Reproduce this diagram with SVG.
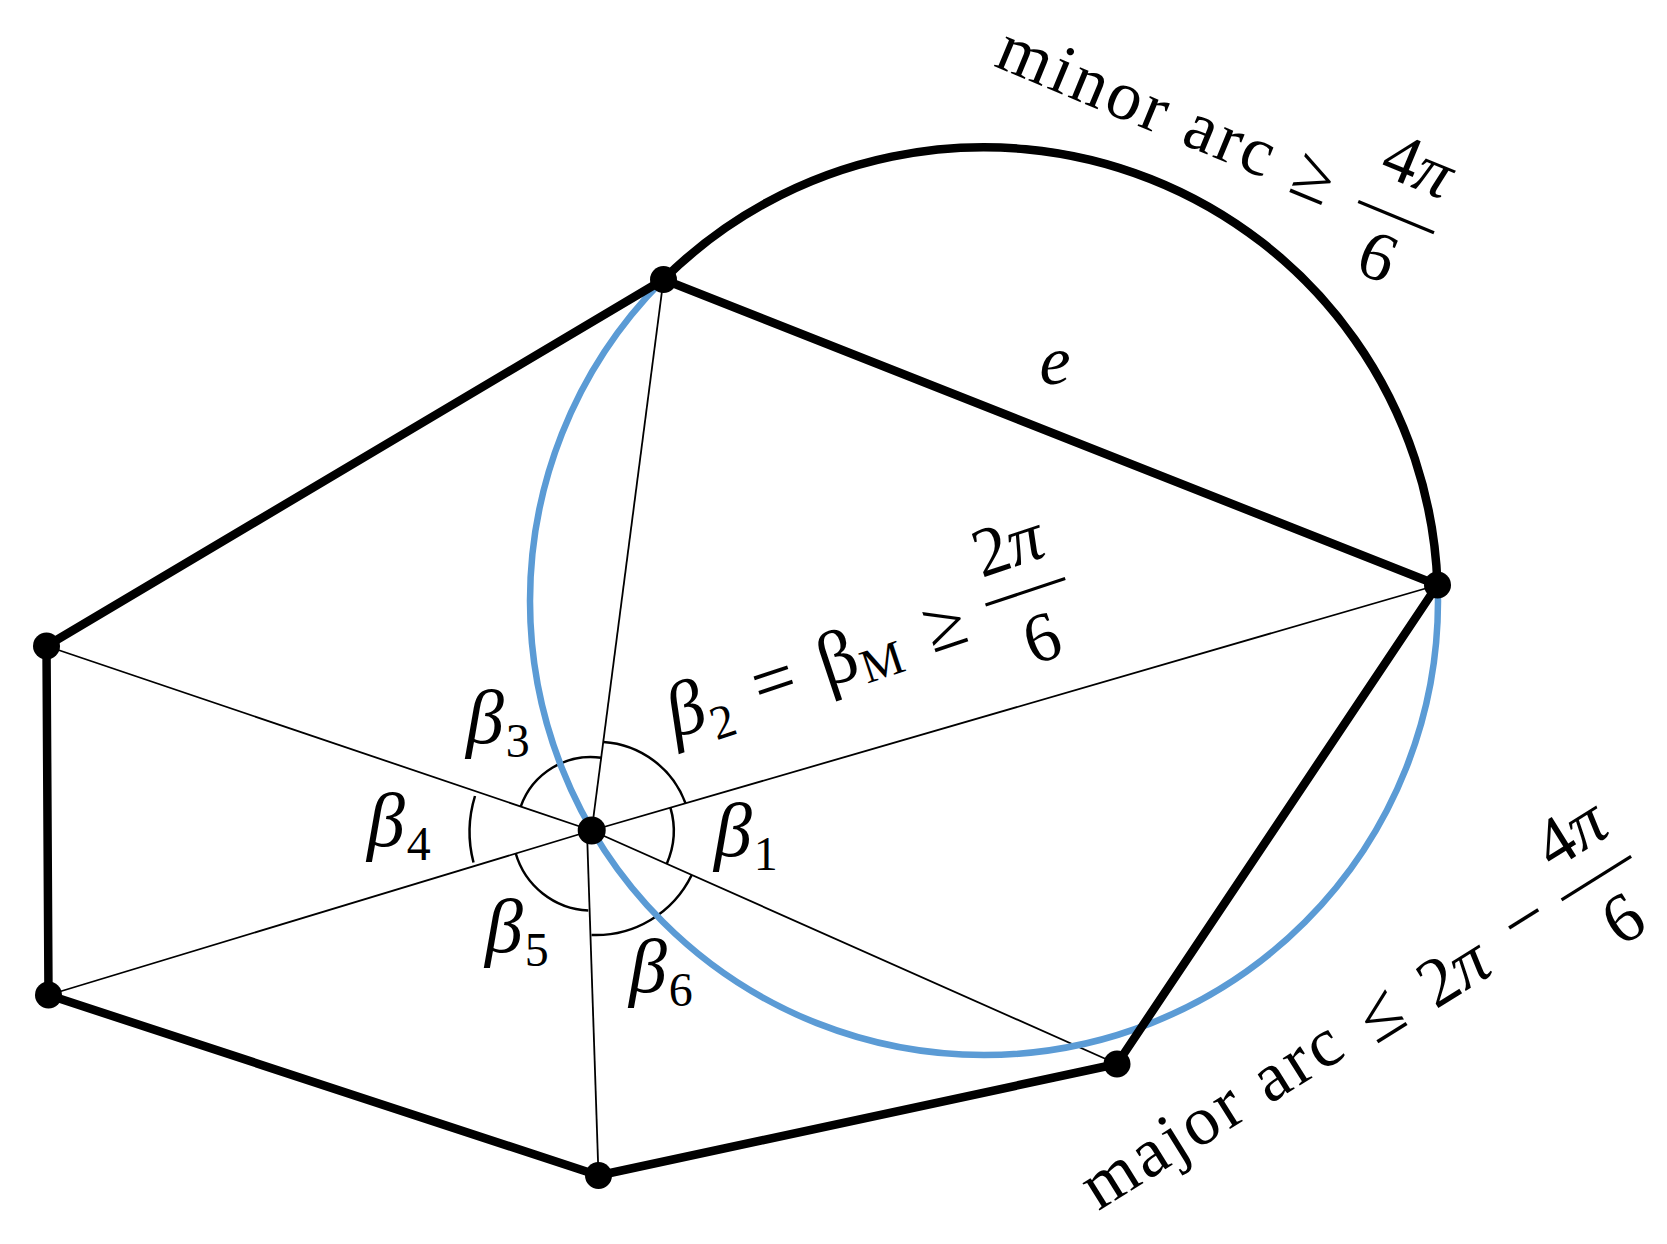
<svg xmlns="http://www.w3.org/2000/svg" width="1667" height="1244" viewBox="0 0 1667 1244">
<style>
.thick{stroke:#000;stroke-width:8.5;fill:none;stroke-linecap:round;stroke-linejoin:round}
.thin{stroke:#000;stroke-width:1.8;fill:none}
.ang{stroke:#000;stroke-width:2.5;fill:none}
.blue{stroke:#5B9BD5;stroke-width:6.5;fill:none}
.bar{stroke:#000;stroke-width:3.2}
.lbl{font-family:"Liberation Serif","DejaVu Serif",serif;font-size:70px;fill:#000}
.it{font-style:italic}
.beta{font-size:76px}
.sub{font-size:48px}
.dot{fill:#000}
</style>
<rect width="1667" height="1244" fill="#fff"/>
<g id="connectors">
  <g id="spokes">
    <line class="thin" x1="591.7" y1="830.5" x2="663.5" y2="279.5"/>
    <line class="thin" x1="591.7" y1="830.5" x2="1437.5" y2="585"/>
    <line class="thin" x1="591.7" y1="830.5" x2="1117" y2="1064"/>
    <line class="thin" x1="587" y1="832" x2="598.5" y2="1175.5"/>
    <line class="thin" x1="591.7" y1="830.5" x2="48.5" y2="995"/>
    <line class="thin" x1="591.7" y1="830.5" x2="46.5" y2="646"/>
  </g>
  <g id="angle-arcs">
    <path class="ang" d="M670.4,807.7 A82,82 0 0 1 666.7,863.9"/>
    <path class="ang" d="M603.4,741.9 A94,94 0 0 1 685.5,803.3"/>
    <path class="ang" d="M520.7,806.6 A74.5,74.5 0 0 1 601.3,757.7"/>
    <path class="ang" d="M473.5,862.5 A122,122 0 0 1 475,796"/>
    <path class="ang" d="M588.3,910.5 A79.5,79.5 0 0 1 515.6,853"/>
    <path class="ang" d="M691.7,875 A106.5,106.5 0 0 1 591.5,935"/>
  </g>
  <circle id="circle" class="blue" cx="984" cy="601" r="454"/>
  <g id="edges">
    <path id="minor-arc" class="thick" d="M663.5,279.5 A454,454 0 0 1 1437.5,585"/>
    <line class="thick" x1="663.5" y1="279.5" x2="46.5" y2="646"/>
    <line class="thick" x1="46.5" y1="646" x2="48.5" y2="995"/>
    <line class="thick" x1="48.5" y1="995" x2="598.5" y2="1175.5"/>
    <line class="thick" x1="598.5" y1="1175.5" x2="1117" y2="1064"/>
    <line class="thick" x1="1117" y1="1064" x2="1437.5" y2="585"/>
    <line id="edge-e" class="thick" x1="1437.5" y1="585" x2="663.5" y2="279.5"/>
  </g>
</g>
<g id="node-A"><circle class="dot" cx="663.5" cy="279.5" r="13.5"/></g>
<g id="node-F"><circle class="dot" cx="1437.5" cy="585" r="13.5"/></g>
<g id="node-E"><circle class="dot" cx="1117" cy="1064" r="13.5"/></g>
<g id="node-D"><circle class="dot" cx="598.5" cy="1175.5" r="13.5"/></g>
<g id="node-C"><circle class="dot" cx="48.5" cy="995" r="13.5"/></g>
<g id="node-B"><circle class="dot" cx="46.5" cy="646" r="13.5"/></g>
<g id="node-O"><circle class="dot" cx="591.7" cy="830.5" r="14"/></g>

<g id="labels" class="lbl">
  <text class="it" x="1055" y="384" text-anchor="middle">e</text>

  <text x="714" y="856"><tspan class="it beta">β</tspan><tspan class="sub" dx="2" dy="14">1</tspan></text>
  <text x="466" y="743"><tspan class="it beta">β</tspan><tspan class="sub" dx="2" dy="14">3</tspan></text>
  <text x="367" y="846"><tspan class="it beta">β</tspan><tspan class="sub" dx="2" dy="14">4</tspan></text>
  <text x="485" y="952"><tspan class="it beta">β</tspan><tspan class="sub" dx="2" dy="14">5</tspan></text>
  <text x="629" y="992"><tspan class="it beta">β</tspan><tspan class="sub" dx="2" dy="14">6</tspan></text>

  <g id="label-beta2" transform="translate(775,685) rotate(-18.5)">
    <text x="-112" y="19"><tspan class="it beta">β</tspan><tspan class="sub" dx="1" dy="15">2</tspan></text>
    <text x="0" y="20" text-anchor="middle" font-size="76">=</text>
    <text x="48" y="19"><tspan class="beta">β</tspan><tspan class="sub" dx="1" dy="9">M</tspan></text>
    <text x="180" y="20" text-anchor="middle" font-size="74">≥</text>
    <line class="bar" x1="225" y1="-9" x2="309" y2="-9"/>
    <text x="265" y="-36" text-anchor="middle">2<tspan class="it">π</tspan></text>
    <text x="268" y="63" text-anchor="middle">6</text>
  </g>

  <g id="label-minor" transform="translate(1313,180) rotate(22.5)">
    <text x="-340" y="17" textLength="294" lengthAdjust="spacing">minor arc</text>
    <text x="0" y="20" text-anchor="middle" font-size="74">≥</text>
    <line class="bar" x1="50" y1="2.5" x2="132" y2="2.5"/>
    <text x="92" y="-31" text-anchor="middle">4<tspan class="it">π</tspan></text>
    <text x="89" y="69" text-anchor="middle">6</text>
  </g>

  <g id="label-major" transform="translate(1383,1018) rotate(-32)">
    <text x="-344" y="13" textLength="294" lengthAdjust="spacing">major arc</text>
    <text x="0" y="19" text-anchor="middle" font-size="74">≤</text>
    <text x="84" y="21" text-anchor="middle">2<tspan class="it">π</tspan></text>
    <text x="172" y="15" text-anchor="middle" font-size="74">−</text>
    <line class="bar" x1="214" y1="-5.5" x2="296" y2="-5.5"/>
    <text x="257" y="-35" text-anchor="middle">4<tspan class="it">π</tspan></text>
    <text x="256" y="66" text-anchor="middle">6</text>
  </g>
</g>
</svg>
